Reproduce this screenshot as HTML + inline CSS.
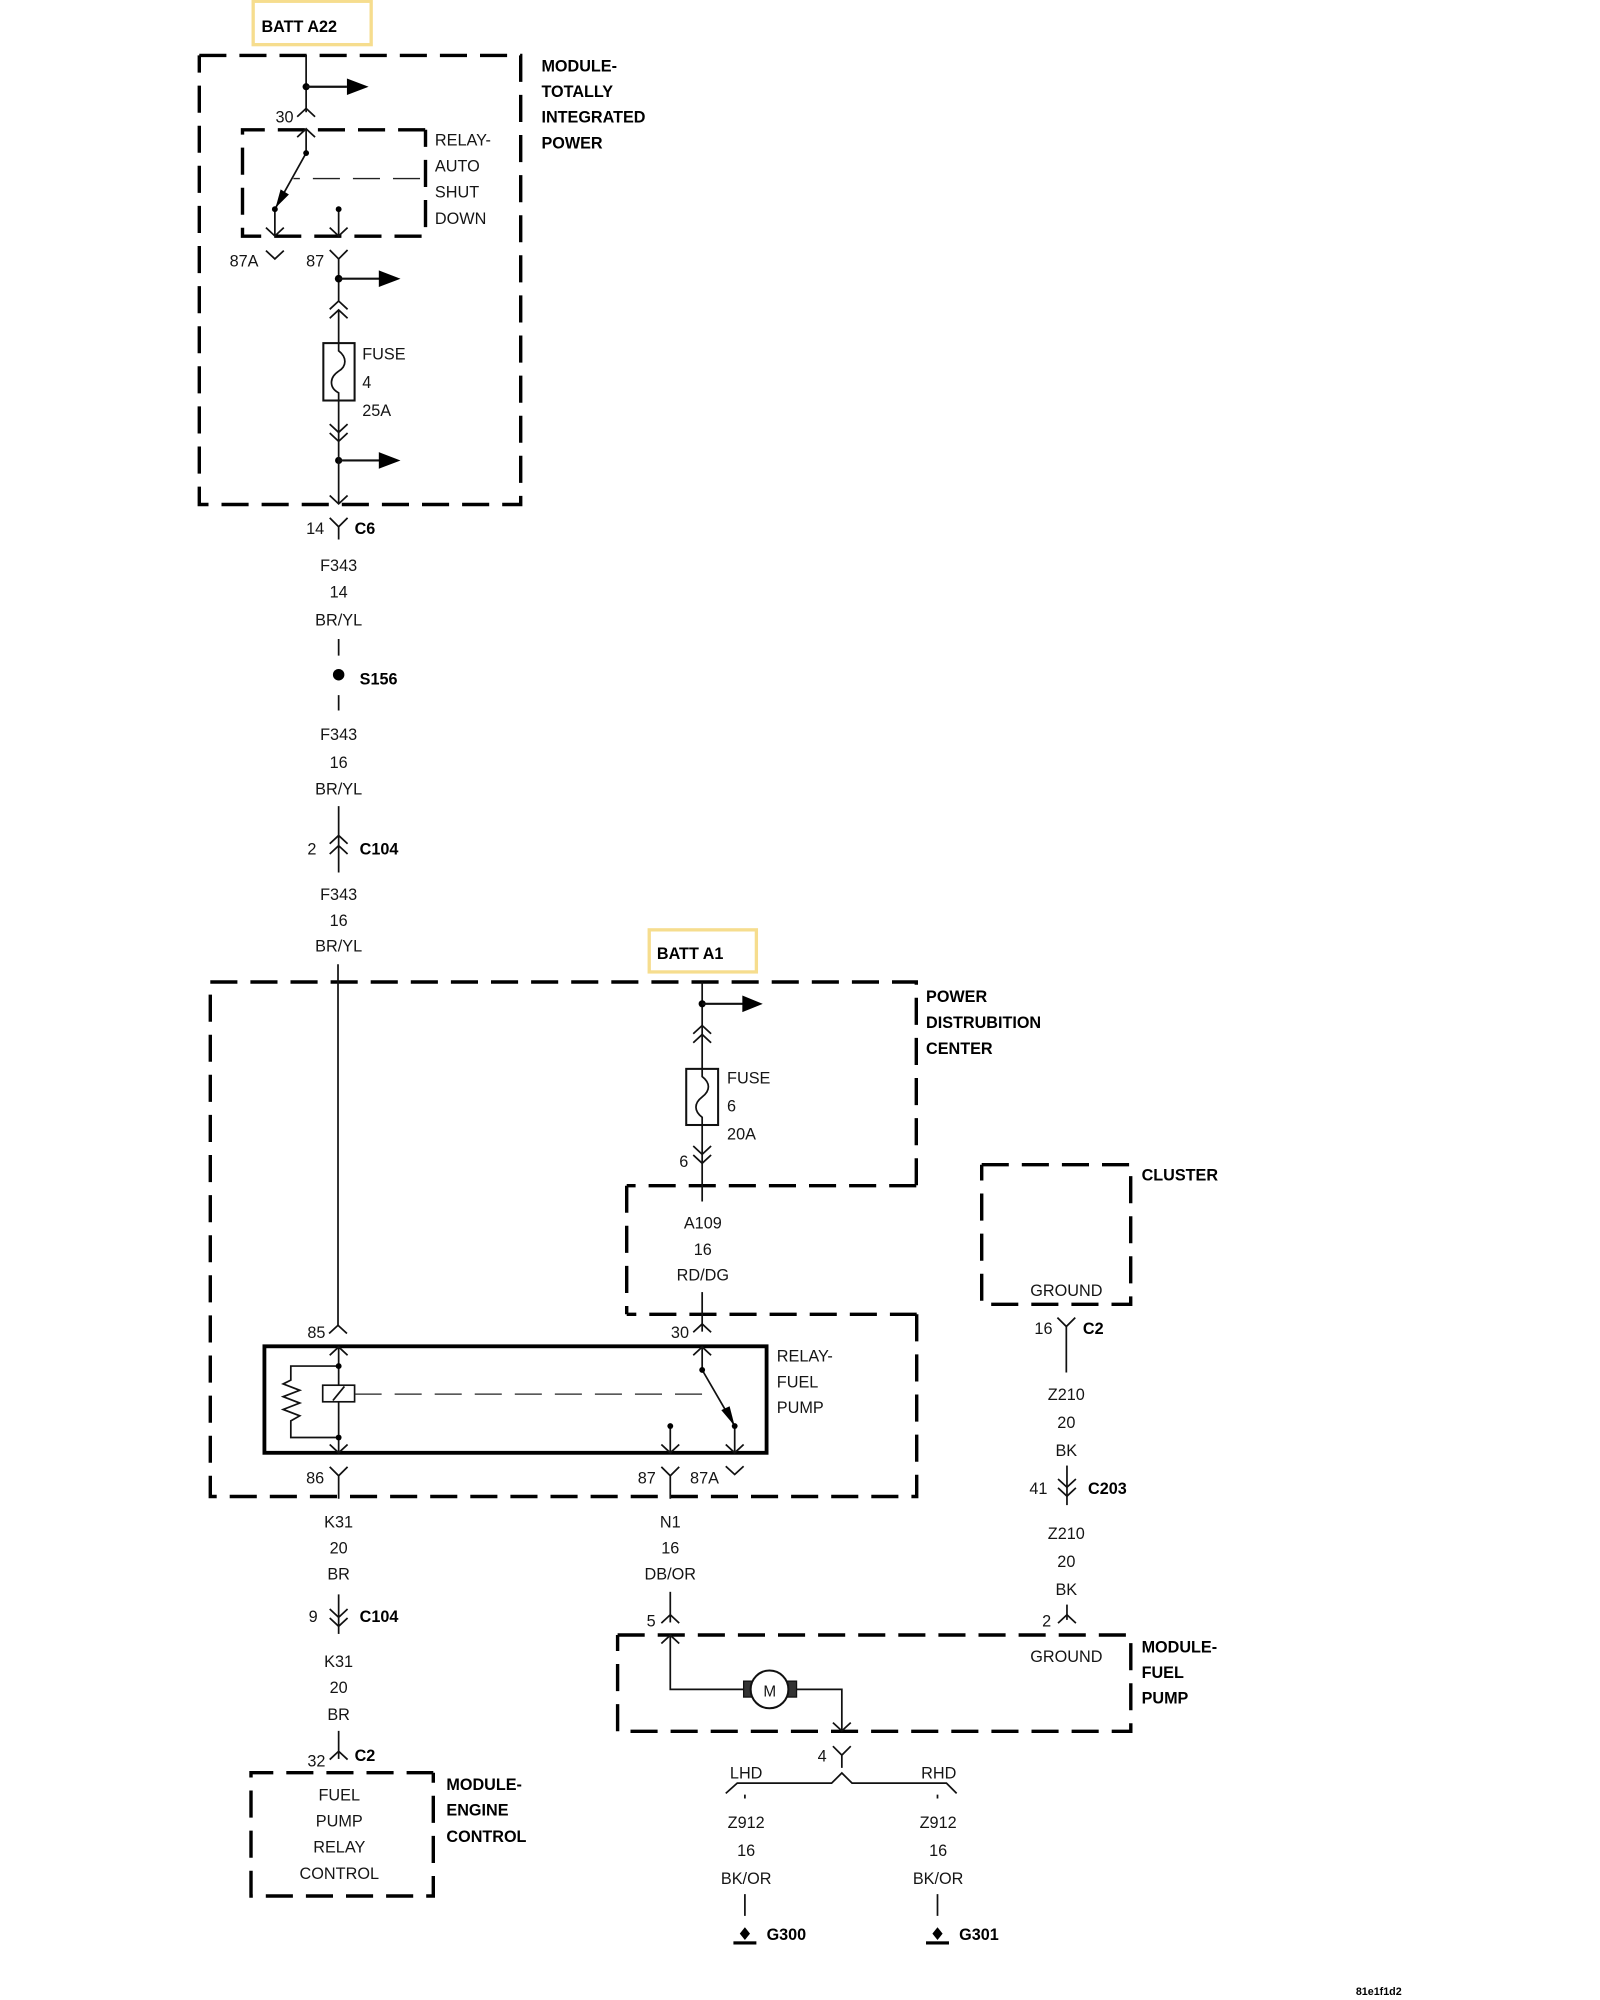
<!DOCTYPE html>
<html><head><meta charset="utf-8"><style>
html,body{margin:0;padding:0;background:#fff;width:1600px;height:2000px;overflow:hidden}
svg{display:block}
text{font-family:"Liberation Sans",sans-serif;font-size:12.75px;fill:#151515}
.b{font-weight:bold;font-size:12.7px;fill:#000}
.m{text-anchor:middle}
.d{fill:none;stroke:#000;stroke-width:3.4;stroke-dasharray:27.1 13}
.w{fill:none;stroke:#111;stroke-width:1.35}
.t{fill:none;stroke:#222;stroke-width:1;stroke-dasharray:21.2 10.2}
.f{fill:#000;stroke:none}
</style></head><body>
<svg width="1600" height="2000" viewBox="0 0 1254.4 1568" xmlns="http://www.w3.org/2000/svg">
<defs>
<path id="u" d="M-7,6.500L0,0L7,6.500" fill="none" stroke="#111" stroke-width="1.35"/>
<path id="v" d="M-7,-6.500L0,0L7,-6.500" fill="none" stroke="#111" stroke-width="1.35"/>
<path id="ar" d="M0,0H32" stroke="#111" stroke-width="1.7" fill="none"/>
</defs>

<!-- battery boxes -->
<rect x="198.500" y="1" width="92.500" height="34" fill="#fff" stroke="#f6dd8e" stroke-width="2.600"/>
<rect x="509" y="729" width="84" height="33" fill="#fff" stroke="#f6dd8e" stroke-width="2.600"/>
<text class="b" x="205" y="25">BATT A22</text>
<text class="b" x="515" y="752">BATT A1</text>

<!-- dashed boxes (real pixel coordinates) -->
<g transform="scale(0.784)">
<path class="d" d="M199.300,55.400H520.700V504.500H199.300V55.400"/>
<path class="d" style="stroke-dashoffset:10" d="M425.500,129.800V236.200H242.500V129.800H425.500"/>
<path class="d" d="M210.300,982H916.300V1185.700"/>
<path class="d" d="M916.300,1185.700H626.700"/>
<path class="d" d="M626.700,1185.700V1314.300"/>
<path class="d" style="stroke-dashoffset:17.500" d="M626.700,1314.300H916.700"/>
<path class="d" d="M916.700,1314.300V1496.500H210.300V982"/>
<path class="d" d="M981.700,1164.700H1130.700V1304.300H981.700V1164.700"/>
<path class="d" d="M617.600,1635H1130.800V1731.300H617.600V1635"/>
<path class="d" style="stroke-dashoffset:17" d="M433.300,1772.700V1896H251V1772.700H433.300"/>
</g>
<rect x="207.300" y="1055.500" width="393.700" height="83.500" fill="none" stroke="#000" stroke-width="3"/>

<!-- module 1 wiring -->
<path class="w" d="M240,43V88M240,101V120L215.500,164M215.500,164V185M265.500,164V185M265.500,203V236M265.500,243V269"/>
<path class="t" d="M329.300,140H230"/>
<circle cx="240" cy="68" r="2.800" class="f"/><circle cx="240" cy="120" r="2.300" class="f"/>
<circle cx="215.500" cy="164" r="2.300" class="f"/><circle cx="265.500" cy="164" r="2.300" class="f"/>
<circle cx="265.500" cy="218.500" r="3" class="f"/><circle cx="265.500" cy="361" r="2.800" class="f"/>
<use href="#ar" x="240" y="68"/><path class="f" d="M272,61.500L289,68L272,74.500Z"/>
<use href="#ar" x="265.500" y="218.500"/><path class="f" d="M297,212L314,218.500L297,225Z"/>
<use href="#ar" x="265.500" y="361"/><path class="f" d="M297,354.500L314,361L297,367.500Z"/>
<path class="f" d="M216,163L220,148.500L226.500,152.500Z"/>
<use href="#u" x="240" y="85"/><use href="#u" x="240" y="101"/>
<use href="#v" x="215.500" y="185"/><use href="#v" x="265.500" y="185"/>
<use href="#v" x="215.500" y="203"/>
<path class="w" d="M258.500,196L265.500,203L272.500,196"/>
<use href="#u" x="265.500" y="236"/><use href="#u" x="265.500" y="243"/>
<rect x="253.500" y="269" width="24.500" height="45" fill="#fff" stroke="#111" stroke-width="1.600"/>
<path class="w" d="M265.500,269V275C272,280 272,287 265.500,291C258,296 258,304 265.500,308V314"/>
<path class="w" d="M265.500,314V395M265.500,413V423"/>
<use href="#v" x="265.500" y="339"/><use href="#v" x="265.500" y="346"/>
<use href="#v" x="265.500" y="395"/>
<path class="w" d="M258.500,406L265.500,413L272.500,406"/>

<text x="216" y="96">30</text><text x="180" y="209">87A</text><text x="240" y="209">87</text>
<text x="240" y="418.500">14</text><text class="b" x="278" y="418.500">C6</text>
<text x="341" y="114">RELAY-</text><text x="341" y="134.500">AUTO</text><text x="341" y="155">SHUT</text><text x="341" y="175.500">DOWN</text>
<text class="b" x="424.500" y="56">MODULE-</text><text class="b" x="424.500" y="76">TOTALLY</text><text class="b" x="424.500" y="96">INTEGRATED</text><text class="b" x="424.500" y="116.500">POWER</text>
<text x="284" y="282">FUSE</text><text x="284" y="304">4</text><text x="284" y="326">25A</text>

<!-- F343 run -->
<text class="m" x="265.500" y="447.500">F343</text><text class="m" x="265.500" y="468.500">14</text><text class="m" x="265.500" y="490.500">BR/YL</text>
<path class="w" d="M265.500,501V514M265.500,545V557M265.500,632V684"/>
<circle cx="265.500" cy="529" r="4.500" class="f"/>
<text class="b" x="282" y="536.500">S156</text>
<text class="m" x="265.500" y="580">F343</text><text class="m" x="265.500" y="602">16</text><text class="m" x="265.500" y="623">BR/YL</text>
<use href="#u" x="265.500" y="655"/><use href="#u" x="265.500" y="663"/>
<text x="241" y="670">2</text><text class="b" x="282" y="670">C104</text>
<text class="m" x="265.500" y="705.500">F343</text><text class="m" x="265.500" y="726">16</text><text class="m" x="265.500" y="746">BR/YL</text>
<path class="w" d="M265,756V1040"/>

<!-- PDC -->
<text class="b" x="726" y="785.500">POWER</text><text class="b" x="726" y="806">DISTRUBITION</text><text class="b" x="726" y="826.500">CENTER</text>
<path class="w" d="M550.500,770V838M550.500,882V942"/>
<circle cx="550.500" cy="787" r="2.800" class="f"/>
<use href="#ar" x="550.500" y="787"/><path class="f" d="M582,780.500L598,787L582,793.500Z"/>
<use href="#u" x="550.500" y="804"/><use href="#u" x="550.500" y="811"/>
<rect x="538" y="838" width="25" height="44" fill="#fff" stroke="#111" stroke-width="1.600"/>
<path class="w" d="M550.500,838V844C557,849 557,855 550.500,860C544,865 544,871 550.500,876V882"/>
<use href="#v" x="550.500" y="905"/><use href="#v" x="550.500" y="912"/>
<text x="570" y="849.500">FUSE</text><text x="570" y="871.500">6</text><text x="570" y="893.500">20A</text>
<text x="532.500" y="915">6</text>
<text class="m" x="551" y="963">A109</text><text class="m" x="551" y="984">16</text><text class="m" x="551" y="1004">RD/DG</text>
<path class="w" d="M550.500,1013V1044"/>
<use href="#u" x="550.500" y="1038"/><text x="526" y="1049">30</text>
<use href="#u" x="265" y="1039"/><text x="241" y="1049">85</text>

<!-- relay fuel pump -->
<use href="#u" x="265.500" y="1056"/><use href="#v" x="265.500" y="1139"/>
<path class="w" d="M265.500,1056V1139M265.500,1071H228V1082L222,1085L235,1090L222,1095L235,1100L222,1105L235,1110L228,1114V1127H265.500"/>
<circle cx="265.500" cy="1071" r="2.300" class="f"/><circle cx="265.500" cy="1127" r="2.300" class="f"/>
<rect x="253" y="1086" width="25" height="13" fill="#fff" stroke="#111" stroke-width="1.300"/>
<path class="w" d="M261,1098L270,1087"/>
<path class="t" d="M278,1093H551"/>
<use href="#u" x="550.500" y="1056"/>
<path class="w" d="M550.500,1056V1074L576,1118M525.500,1118V1139M576,1118V1139"/>
<circle cx="550.500" cy="1074" r="2.300" class="f"/><circle cx="576" cy="1118" r="2.300" class="f"/><circle cx="525.500" cy="1118" r="2.300" class="f"/>
<path class="f" d="M576,1118L565.500,1105.500L572,1102.500Z"/>
<use href="#v" x="525.500" y="1139"/><use href="#v" x="576" y="1139"/>
<text x="609" y="1067.500">RELAY-</text><text x="609" y="1088">FUEL</text><text x="609" y="1108">PUMP</text>
<path class="w" d="M258.500,1150L265.500,1157L272.500,1150M265.500,1157V1175M518.500,1150L525.500,1157L532.500,1150M525.500,1157V1175"/>
<use href="#v" x="576" y="1156"/>
<text x="240" y="1163">86</text><text x="500" y="1163">87</text><text x="541" y="1163">87A</text>

<!-- K31 -->
<text class="m" x="265.500" y="1197.500">K31</text><text class="m" x="265.500" y="1218">20</text><text class="m" x="265.500" y="1238.500">BR</text>
<path class="w" d="M265.500,1250V1281"/>
<use href="#v" x="265.500" y="1268"/><use href="#v" x="265.500" y="1275"/>
<text x="242" y="1271.500">9</text><text class="b" x="282" y="1271.500">C104</text>
<text class="m" x="265.500" y="1307">K31</text><text class="m" x="265.500" y="1327.500">20</text><text class="m" x="265.500" y="1348.500">BR</text>
<path class="w" d="M265.500,1357V1379"/><use href="#u" x="265.500" y="1373"/>
<text x="241" y="1385">32</text><text class="b" x="278" y="1380.500">C2</text>
<text class="m" x="266" y="1411.500">FUEL</text><text class="m" x="266" y="1432">PUMP</text><text class="m" x="266" y="1452.500">RELAY</text><text class="m" x="266" y="1473">CONTROL</text>
<text class="b" x="350" y="1403.500">MODULE-</text><text class="b" x="350" y="1423.500">ENGINE</text><text class="b" x="350" y="1444">CONTROL</text>

<!-- N1 + fuel pump -->
<text class="m" x="525.500" y="1197.500">N1</text><text class="m" x="525.500" y="1218">16</text><text class="m" x="525.500" y="1238.500">DB/OR</text>
<path class="w" d="M525.500,1248V1272"/><use href="#u" x="525.500" y="1266"/><text x="507" y="1275">5</text>
<use href="#u" x="525.500" y="1282"/>
<path class="w" d="M525.500,1282V1324.500H585M622,1324.500H660V1357"/>
<rect x="583" y="1318" width="7.500" height="12.500" fill="#333" stroke="#111"/><rect x="617" y="1318" width="7.500" height="12.500" fill="#333" stroke="#111"/>
<circle cx="603.300" cy="1324.500" r="14.800" fill="#fff" stroke="#111" stroke-width="1.600"/>
<text class="m" x="603.500" y="1330" style="font-size:12px">M</text>
<use href="#v" x="660" y="1357"/>
<text x="641" y="1381">4</text>
<path class="w" d="M653,1369L660,1376L667,1369M660,1376V1386"/>
<text class="m" x="585" y="1394.500">LHD</text><text class="m" x="736" y="1394.500">RHD</text>
<path class="w" d="M569,1406L578,1398H652L660,1390L668,1398H742L750,1406"/>
<path class="w" d="M584,1407V1410M735,1407V1410M584,1485V1502M735,1485V1502"/>
<text class="m" x="585" y="1433">Z912</text><text class="m" x="585" y="1455">16</text><text class="m" x="585" y="1477">BK/OR</text>
<text class="m" x="735.500" y="1433">Z912</text><text class="m" x="735.500" y="1455">16</text><text class="m" x="735.500" y="1477">BK/OR</text>
<path class="f" d="M584,1511L588,1516L584,1521L580,1516Z"/><path class="f" d="M735,1511L739,1516L735,1521L731,1516Z"/>
<rect x="575" y="1522" width="18" height="2.500" class="f"/><rect x="726" y="1522" width="18" height="2.500" class="f"/>
<text class="b" x="601" y="1521">G300</text><text class="b" x="752" y="1521">G301</text>

<!-- cluster -->
<text class="b" x="895" y="925.500">CLUSTER</text>
<text class="m" x="836" y="1016">GROUND</text>
<text x="811" y="1046">16</text><text class="b" x="849" y="1046">C2</text>
<path class="w" d="M829,1033L836,1040L843,1033M836,1040V1076"/>
<text class="m" x="836" y="1097.500">Z210</text><text class="m" x="836" y="1119.500">20</text><text class="m" x="836" y="1141.500">BK</text>
<path class="w" d="M836.500,1149V1180"/><use href="#v" x="836.500" y="1166"/><use href="#v" x="836.500" y="1173"/>
<text x="807" y="1171.500">41</text><text class="b" x="853" y="1171.500">C203</text>
<text class="m" x="836" y="1206.500">Z210</text><text class="m" x="836" y="1228.500">20</text><text class="m" x="836" y="1250.500">BK</text>
<path class="w" d="M836.500,1258V1270"/><use href="#u" x="836.500" y="1266"/>
<text x="817" y="1275">2</text>
<text class="m" x="836" y="1303">GROUND</text>
<text class="b" x="895" y="1295.500">MODULE-</text><text class="b" x="895" y="1315.500">FUEL</text><text class="b" x="895" y="1335.500">PUMP</text>

<text class="b" x="1063" y="1564" style="font-size:8.400px">81e1f1d2</text>
</svg>
</body></html>
